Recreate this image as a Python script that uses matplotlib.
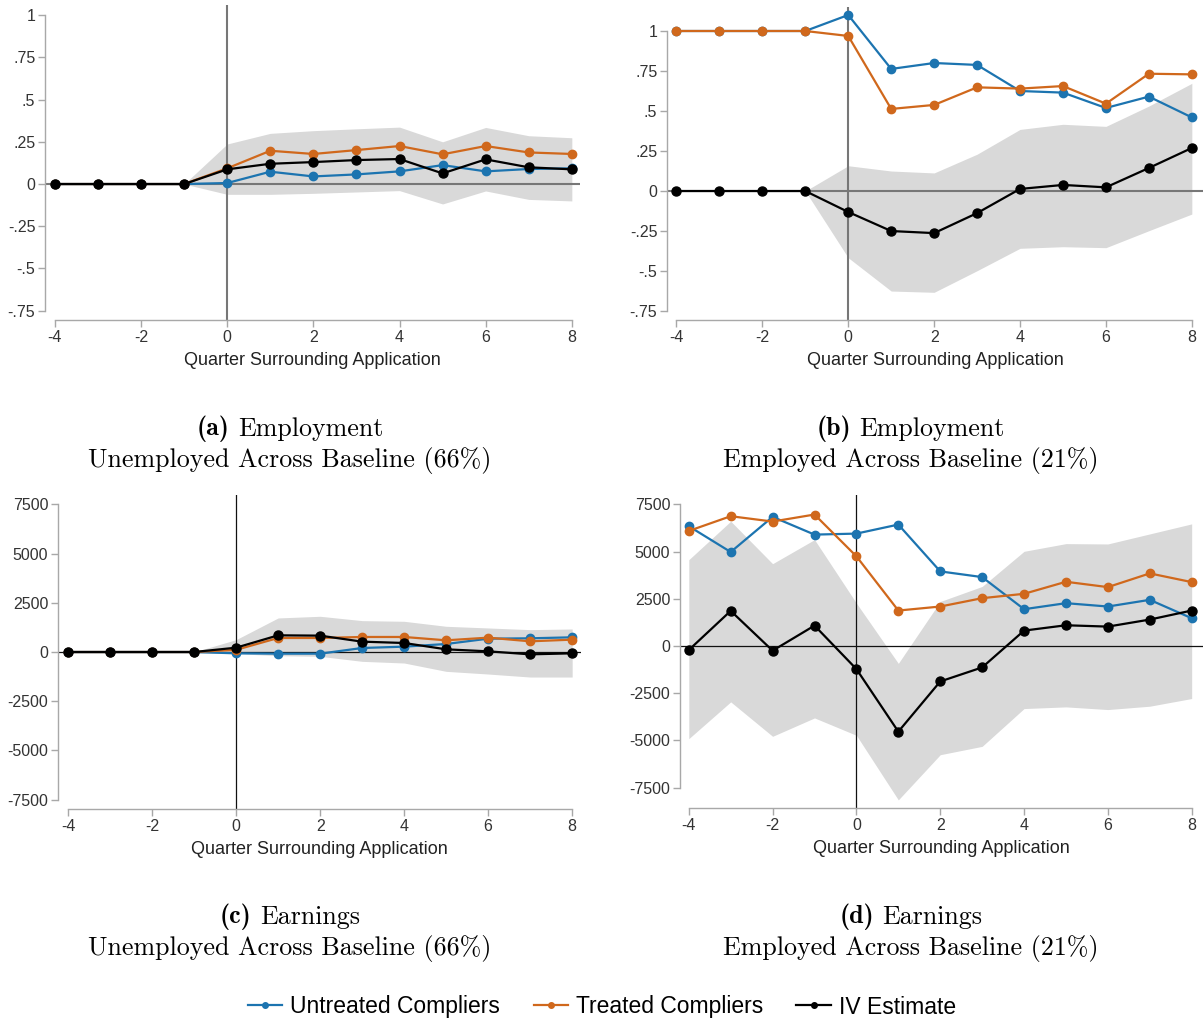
import matplotlib
matplotlib.use("Agg")
import matplotlib.pyplot as plt
from matplotlib.lines import Line2D

plt.rcParams['font.family'] = ['Liberation Sans', 'DejaVu Sans']
plt.rcParams['axes.unicode_minus'] = False

quarters = [-4, -3, -2, -1, 0, 1, 2, 3, 4, 5, 6, 7, 8]
band_q_post = [-1, 0, 1, 2, 3, 4, 5, 6, 7, 8]

# (a) employment, unemployed at baseline
emp_u_untreated = [0, 0, 0, 0, 0.006, 0.073, 0.045, 0.057, 0.075, 0.112, 0.075, 0.089, 0.093]
emp_u_treated = [0, 0, 0, 0, 0.093, 0.197, 0.178, 0.201, 0.225, 0.176, 0.225, 0.187, 0.178]
emp_u_iv = [0, 0, 0, 0, 0.087, 0.12, 0.13, 0.142, 0.148, 0.063, 0.146, 0.099, 0.087]
emp_u_hi = [0, 0.237, 0.30, 0.316, 0.327, 0.337, 0.25, 0.335, 0.286, 0.274]
emp_u_lo = [0, -0.061, -0.061, -0.055, -0.047, -0.039, -0.118, -0.041, -0.091, -0.10]

# (b) employment, employed at baseline
emp_e_untreated = [1, 1, 1, 1, 1.10, 0.763, 0.80, 0.788, 0.625, 0.615, 0.519, 0.59, 0.46]
emp_e_treated = [1, 1, 1, 1, 0.969, 0.513, 0.538, 0.648, 0.64, 0.656, 0.546, 0.733, 0.729]
emp_e_iv = [0, 0, 0, 0, -0.131, -0.25, -0.263, -0.138, 0.013, 0.038, 0.023, 0.144, 0.269]
emp_e_hi = [0, 0.158, 0.125, 0.113, 0.23, 0.385, 0.417, 0.404, 0.531, 0.673]
emp_e_lo = [0, -0.417, -0.625, -0.633, -0.498, -0.358, -0.348, -0.354, -0.248, -0.144]

# (c) earnings, unemployed at baseline
earn_u_untreated = [0, 0, 0, 0, -68, -85, -85, 204, 272, 407, 679, 696, 747]
earn_u_treated = [0, 0, 0, 0, 110, 713, 713, 764, 764, 594, 730, 543, 628]
earn_u_iv = [0, 0, 0, 0, 220, 848, 832, 526, 458, 136, 34, -119, -68]
earn_u_hi = [0, 628, 1731, 1816, 1595, 1561, 1307, 1222, 1137, 1171]
earn_u_lo = [0, -85, -187, -221, -475, -560, -984, -1120, -1273, -1273]

# (d) earnings, employed at baseline
earn_e_untreated = [6348, 4982, 6844, 5904, 5957, 6436, 3954, 3652, 1950, 2270, 2092, 2447, 1472]
earn_e_treated = [6099, 6879, 6596, 6968, 4752, 1879, 2092, 2535, 2766, 3404, 3121, 3848, 3387]
earn_e_iv = [-213, 1862, -248, 1082, -1223, -4539, -1879, -1135, 816, 1099, 1028, 1401, 1879]
earn_e_hi = [4574, 6613, 4362, 5638, 2270, -922, 2358, 3156, 5018, 5426, 5408, 5940, 6472]
earn_e_lo = [-4911, -2961, -4787, -3812, -4734, -8156, -5762, -5319, -3316, -3227, -3369, -3191, -2784]

emp_ticks = [-0.75, -0.5, -0.25, 0, 0.25, 0.5, 0.75, 1]
emp_labels = ["-.75", "-.5", "-.25", "0", ".25", ".5", ".75", "1"]
earn_ticks = [-7500, -5000, -2500, 0, 2500, 5000, 7500]
earn_labels = ["-7500", "-5000", "-2500", "0", "2500", "5000", "7500"]
x_ticks = [-4, -2, 0, 2, 4, 6, 8]

BLUE = '#1c74b0'
ORANGE = '#d0681c'
W, H = 1204, 1024


def add_panel(rect, band_x, lo, hi, untr, tr, iv, xlim, ylim, yticks, ylabels, yb, refcol, reflw):
    l, r, t, b = rect
    ax = fig.add_axes([l / W, 1 - b / H, (r - l) / W, (b - t) / H])
    ax.fill_between(band_x, lo, hi, color='#d9d9d9', lw=0, zorder=1)
    ax.axhline(0, color=refcol, lw=reflw, zorder=2)
    ax.axvline(0, color=refcol, lw=reflw, zorder=2)
    ax.plot(quarters, untr, color=BLUE, marker='o', ms=6, lw=1.6, zorder=3)
    ax.plot(quarters, tr, color=ORANGE, marker='o', ms=6, lw=1.6, zorder=4)
    ax.plot(quarters, iv, color='black', marker='o', ms=6.5, lw=1.6, zorder=5)
    ax.set_xlim(xlim)
    ax.set_ylim(ylim)
    ax.set_xticks(x_ticks)
    ax.set_yticks(yticks)
    ax.set_yticklabels(ylabels)
    for s in ['top', 'right']:
        ax.spines[s].set_visible(False)
    ax.spines['left'].set_bounds(yb)
    ax.spines['bottom'].set_bounds(-4, 8)
    for s in ['left', 'bottom']:
        ax.spines[s].set_color('#a8a8a8')
        ax.spines[s].set_linewidth(1.0)
    ax.tick_params(colors='#a8a8a8', labelcolor='#333333', labelsize=11.5, length=5, width=1.0, pad=2)
    ax.set_xlabel("Quarter Surrounding Application", fontsize=13, color='#222222', labelpad=5)
    return ax


fig = plt.figure(figsize=(W / 100, H / 100), dpi=100)

add_panel((45, 580, 5, 320), band_q_post, emp_u_lo, emp_u_hi, emp_u_untreated, emp_u_treated, emp_u_iv,
          (-4.23, 8.19), (-0.805, 1.06), emp_ticks, emp_labels, (-0.75, 1), '#777777', 1.5)
add_panel((667, 1203, 7, 320), band_q_post, emp_e_lo, emp_e_hi, emp_e_untreated, emp_e_treated, emp_e_iv,
          (-4.22, 8.26), (-0.806, 1.15), emp_ticks, emp_labels, (-0.75, 1), '#777777', 1.5)
add_panel((58, 581, 495, 809), band_q_post, earn_u_lo, earn_u_hi, earn_u_untreated, earn_u_treated, earn_u_iv,
          (-4.24, 8.21), (-7983, 7983), earn_ticks, earn_labels, (-7500, 7500), '#111111', 0.9)
add_panel((680, 1203, 495, 808), quarters, earn_e_lo, earn_e_hi, earn_e_untreated, earn_e_treated, earn_e_iv,
          (-4.21, 8.27), (-8586, 8003), earn_ticks, earn_labels, (-7500, 7500), '#111111', 0.9)

captions = [
    (290, 429, "(a)", "Employment", "Unemployed Across Baseline (66%)"),
    (911, 429, "(b)", "Employment", "Employed Across Baseline (21%)"),
    (290, 917, "(c)", "Earnings", "Unemployed Across Baseline (66%)"),
    (911, 917, "(d)", "Earnings", "Employed Across Baseline (21%)"),
]
cap_size = 18.7
renderer = fig.canvas.get_renderer()
for cx, cy, tag, name, sub in captions:
    # bold tag + roman name, centred together
    t1 = fig.text(0, 1 - cy / H, tag, family='cmb10', fontsize=cap_size, va='center')
    t2 = fig.text(0, 1 - cy / H, name, family='cmr10', fontsize=cap_size, va='center')
    w1 = t1.get_window_extent(renderer).width
    w2 = t2.get_window_extent(renderer).width
    gap = 8
    start = cx - (w1 + gap + w2) / 2
    t1.set_x(start / W)
    t2.set_x((start + w1 + gap) / W)
    fig.text(cx / W, 1 - (cy + 32) / H, sub, family='cmr10', fontsize=cap_size, ha='center', va='center')

handles = [Line2D([], [], color=c, marker='o', ms=4, lw=1.6) for c in [BLUE, ORANGE, 'black']]
fig.legend(handles, ["Untreated Compliers", "Treated Compliers", "IV Estimate"],
           loc='center', bbox_to_anchor=(0.5, 1 - 1007 / H), ncol=3, frameon=False,
           fontsize=16.5, handlelength=1.5, columnspacing=1.45, handletextpad=0.35)

plt.savefig("out.png", dpi=100)
